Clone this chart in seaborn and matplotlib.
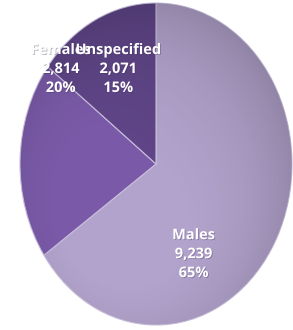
import matplotlib
matplotlib.use("Agg")
import matplotlib.pyplot as plt
import matplotlib.patheffects as pe
from matplotlib import font_manager
import seaborn as sns
import numpy as np

categories = ["Males", "Females", "Unspecified"]
values = [9239, 2814, 2071]
percents = ["65%", "20%", "15%"]
colors = ["#b2a3cc", "#7a5aa8", "#5f4587"]

sns.set_theme(style="white")
plt.rcParams['font.family'] = ['Open Sans', 'DejaVu Sans']

fig = plt.figure(figsize=(2.93, 3.30), dpi=100)
fig.patch.set_facecolor("white")
ax = fig.add_axes([20/293, 5/330, 272/293, 322/330])

wedges, _ = ax.pie(values, colors=colors, startangle=90, counterclock=False,
                   wedgeprops=dict(edgecolor="#c9bfdc", linewidth=0.8))
ax.set_xlim(-1, 1)
ax.set_ylim(-1, 1)
ax.set_aspect('auto')

# soft shading overlay (lighter top-left, darker bottom-right)
yy, xx = np.mgrid[-1:1:200j, -1:1:200j]
shade = np.clip(0.5 * (xx - yy) / 2 + 0.5 * np.sqrt(xx**2 + yy**2) ** 3, 0, 1)
rgba = np.zeros((200, 200, 4))
rgba[..., 3] = 0.22 * shade
im = ax.imshow(rgba, extent=(-1, 1, -1, 1), origin="upper", zorder=2, aspect="auto")
from matplotlib.patches import Ellipse
clip = Ellipse((0, 0), 2, 2, transform=ax.transData)
im.set_clip_path(clip)
ax.set_xlim(-1, 1)
ax.set_ylim(-1, 1)
ax.axis("off")

print([f.name for f in font_manager.fontManager.ttflist if "Narrow" in f.name or "Lato" in f.name][:20])

label_pos = [(0.277, -0.56), (-0.70, 0.59), (-0.277, 0.59)]
for cat, v, p, (lx, ly) in zip(categories, values, percents, label_pos):
    ax.text(lx, ly, f"{cat}\n{v:,}\n{p}", ha="center", va="center",
            color="white", fontsize=10.5, fontweight="bold", linespacing=1.45,
            zorder=5,
            path_effects=[pe.withSimplePatchShadow(offset=(0.6, -0.6), shadow_rgbFace="#3a2a55", alpha=0.35)])

fig.savefig("out.png", dpi=100)
